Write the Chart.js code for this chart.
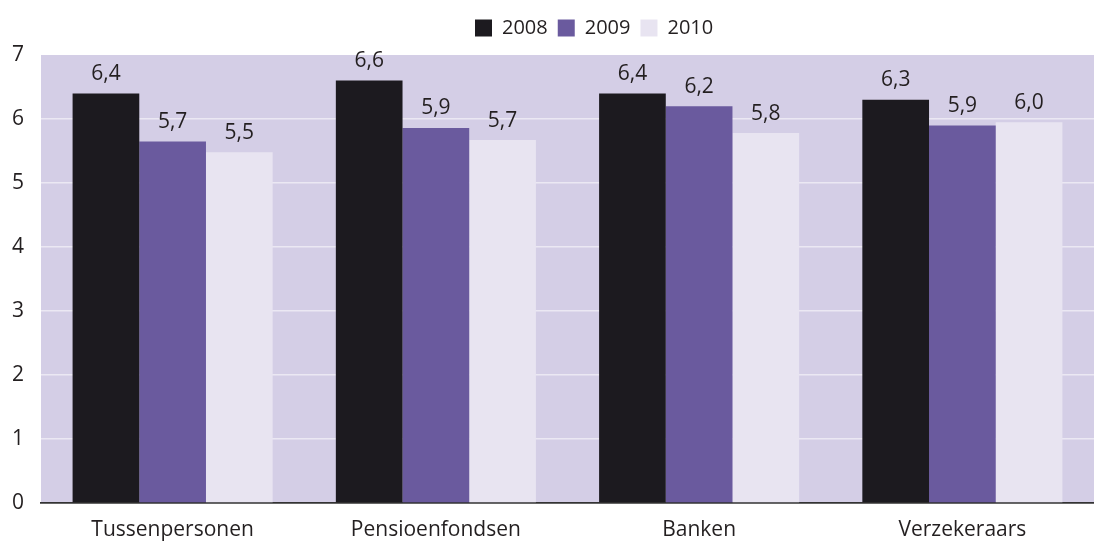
<!DOCTYPE html>
<html>
<head>
<meta charset="utf-8">
<script src="https://cdn.jsdelivr.net/npm/chart.js@4"></script>
<style>
  body { margin: 0; background: #fff; overflow: hidden; }
  #wrap { width: 1094px; height: 543px; }
</style>
</head>
<body>
<div id="wrap"><canvas id="chart"></canvas></div>
<script>
// categorieën en waarden
const categories = ["Tussenpersonen", "Pensioenfondsen", "Banken", "Verzekeraars"];
const years = ["2008", "2009", "2010"];
const values2008 = [6.4, 6.6, 6.4, 6.3];
const values2009 = [5.65, 5.86, 6.2, 5.9];
const values2010 = [5.48, 5.67, 5.78, 5.95];
const labels2008 = ["6,4", "6,6", "6,4", "6,3"];
const labels2009 = ["5,7", "5,9", "6,2", "5,9"];
const labels2010 = ["5,5", "5,7", "5,8", "6,0"];
const yTicks = [0, 1, 2, 3, 4, 5, 6, 7];

const colors = ["#1c1a1f", "#6a5a9e", "#e8e4f1"];
const fontFamily = "'Open Sans', 'Noto Sans', sans-serif";
const textColor = "#231f20";

// achtergrond van het plotgebied
const plotBackground = {
  id: "plotBackground",
  beforeDraw(chart) {
    const { ctx, chartArea } = chart;
    ctx.save();
    ctx.fillStyle = "#d4cee6";
    ctx.fillRect(chartArea.left, chartArea.top, chartArea.right - chartArea.left, chartArea.bottom - chartArea.top);
    ctx.restore();
  }
};

// vaste hoogte en positie voor de legenda
const legendPlacement = {
  id: "legendPlacement",
  beforeInit(chart) {
    const origFit = chart.legend.fit;
    chart.legend.fit = function () {
      origFit.bind(chart.legend)();
      this.height = 55;
    };
  },
  afterLayout(chart) {
    const pad = chart.options.plugins.legend.labels.padding;
    chart.legend.left = 475 - pad;
    chart.legend.top += 8;
    chart.legend.bottom += 8;
  }
};

// waarden boven de staven
const valueLabels = {
  id: "valueLabels",
  afterDatasetsDraw(chart) {
    const { ctx } = chart;
    const allLabels = [labels2008, labels2009, labels2010];
    ctx.save();
    ctx.font = "21px " + fontFamily;
    ctx.fillStyle = textColor;
    ctx.textAlign = "center";
    ctx.textBaseline = "bottom";
    chart.data.datasets.forEach((ds, i) => {
      chart.getDatasetMeta(i).data.forEach((bar, j) => {
        ctx.fillText(allLabels[i][j], bar.x, bar.y - 9);
      });
    });
    ctx.restore();
  }
};

new Chart(document.getElementById("chart"), {
  type: "bar",
  data: {
    labels: categories,
    datasets: [
      { label: years[0], data: values2008, backgroundColor: colors[0] },
      { label: years[1], data: values2009, backgroundColor: colors[1] },
      { label: years[2], data: values2010, backgroundColor: colors[2] },
    ],
  },
  options: {
    responsive: true,
    maintainAspectRatio: false,
    animation: false,
    layout: { padding: 0, autoPadding: false },
    datasets: { bar: { categoryPercentage: 0.76, barPercentage: 1.0 } },
    plugins: {
      legend: {
        position: "top",
        align: "start",
        labels: {
          boxWidth: 17,
          boxHeight: 17,
          padding: 10,
          color: textColor,
          font: { size: 20, family: fontFamily },
        },
      },
      tooltip: { enabled: false },
    },
    scales: {
      x: {
        afterFit(axis) { axis.height = 40; },
        grid: { display: false, drawTicks: false },
        border: { display: true, color: "#333", width: 1.8 },
        ticks: { color: textColor, padding: 14, font: { size: 21, family: fontFamily } },
      },
      y: {
        min: 0,
        max: 7,
        afterFit(axis) { axis.width = 41; },
        afterBuildTicks(axis) {
          axis.ticks = yTicks.map(v => ({ value: v }));
        },
        grid: {
          drawTicks: false,
          color: ctx => (ctx.tick && (ctx.tick.value === 0 || ctx.tick.value === 7) ? "rgba(0,0,0,0)" : "#ebe8f3"),
          lineWidth: 1.5,
        },
        border: { display: false },
        ticks: { color: textColor, padding: 17, font: { size: 21, family: fontFamily } },
      },
    },
  },
  plugins: [plotBackground, legendPlacement, valueLabels],
});
</script>
</body>
</html>
